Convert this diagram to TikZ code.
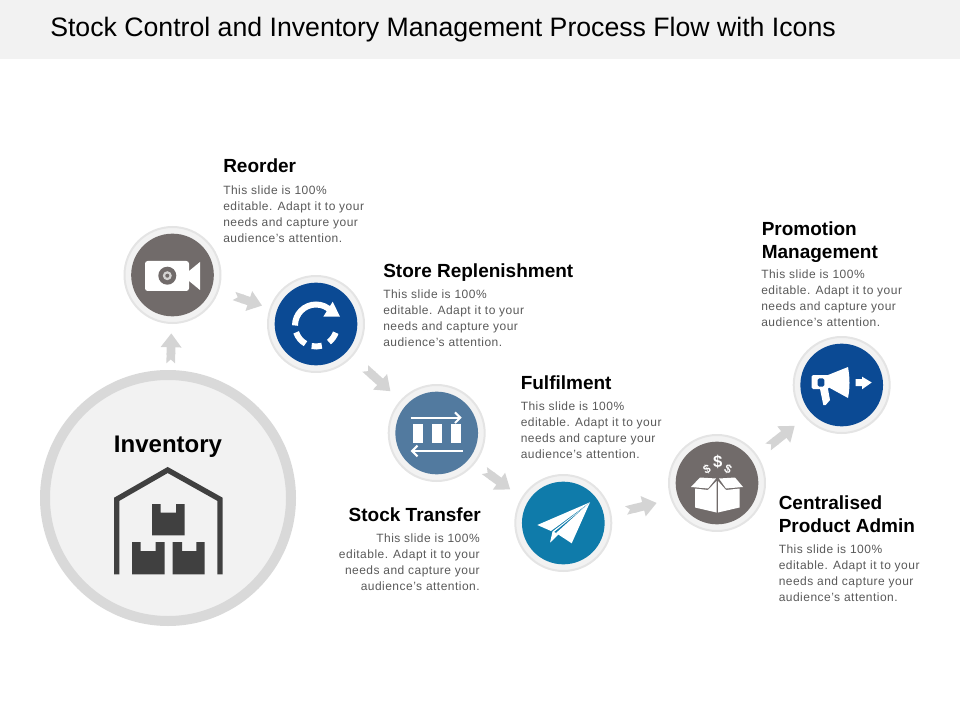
\documentclass[tikz,border=0pt]{standalone}
\usepackage{fontspec}
\setmainfont{Liberation Sans}
\usetikzlibrary{arrows.meta}
\definecolor{bandgray}{HTML}{F2F2F2}
\definecolor{ringgray}{HTML}{D9D9D9}
\definecolor{arrowgray}{HTML}{D4D4D4}
\definecolor{darkbox}{HTML}{404040}
\definecolor{bodygray}{HTML}{595959}
\definecolor{stonegray}{HTML}{716B6A}
\definecolor{navyblue}{HTML}{0B4A94}
\definecolor{steelblue}{HTML}{527A9F}
\definecolor{oceanblue}{HTML}{0F7BAA}
\tikzset{
  stepring/.style={circle, draw=ringgray!70, line width=1.5pt, fill=bandgray, minimum size=72pt, inner sep=0pt},
  stepdisc/.style={circle, fill=#1, minimum size=62pt, inner sep=0pt},
  flowarrow/.style={draw=arrowgray, line width=6.5pt, {Triangle Cap[reversed,length=3pt]}-{Triangle[length=10.5pt,width=15pt]}},
  headtext/.style={anchor=north west, align=left, font=\fontsize{14.25}{17.25}\selectfont\bfseries, inner sep=0pt},
  bodytext/.style={anchor=north west, align=left, text=bodygray, font=\fontsize{9}{12}\selectfont\addfontfeature{LetterSpace=4}, inner sep=0pt},
  iconline/.style={draw=white, line width=4.5pt},
}
\begin{document}
\begin{tikzpicture}[x=0.75pt, y=-0.75pt]
	\useasboundingbox (0,0) rectangle (960,720);

	% title band
	\fill[bandgray] (0,0) rectangle (960,59);
	\node[anchor=base west, inner sep=0pt, font=\fontsize{20}{24}\selectfont] (title) at (50,37) {Stock Control and Inventory Management Process Flow with Icons};

	% big circle
	\node[circle, draw=ringgray, line width=7.5pt, fill=bandgray, minimum size=184.5pt, inner sep=0pt] (inventory) at (168,498) {};
	\node[font=\fontsize{18}{20}\selectfont\bfseries, inner sep=0pt] (inventorylabel) at (168,447) {Inventory};

	% warehouse
	\draw[darkbox, line width=4pt] (116.7,574.3) -- (116.7,499.3) -- (167.7,470) -- (220,499.3) -- (220,574.3);
	\fill[darkbox] (152,504) -- (160.7,504) -- (160.7,512.7) -- (176,512.7) -- (176,504) -- (184.7,504) -- (184.7,535.3) -- (152,535.3) -- cycle;
	\fill[darkbox] (132,542) -- (140.7,542) -- (140.7,551) -- (155.7,551) -- (155.7,542) -- (164.7,542) -- (164.7,574.3) -- (132,574.3) -- cycle;
	\fill[darkbox] (172.7,542) -- (182,542) -- (182,551) -- (196.3,551) -- (196.3,542) -- (204.7,542) -- (204.7,574.3) -- (172.7,574.3) -- cycle;

	% step circles
	\node[stepring] (reorder) at (172.5,275) {};
	\node[stepdisc=stonegray] (reorderdisc) at (reorder) {};
	\node[stepring] (store) at (316,324) {};
	\node[stepdisc=navyblue] (storedisc) at (store) {};
	\node[stepring] (transfer) at (436.7,433) {};
	\node[stepdisc=steelblue] (transferdisc) at (transfer) {};
	\node[stepring] (plane) at (563.3,523) {};
	\node[stepdisc=oceanblue] (planedisc) at (plane) {};
	\node[stepring] (box) at (717,483) {};
	\node[stepdisc=stonegray] (boxdisc) at (box) {};
	\node[stepring] (promo) at (841.7,385) {};
	\node[stepdisc=navyblue] (promodisc) at (promo) {};

	% arrows
	\draw[flowarrow, shorten >=7pt, shorten <=5pt] (inventory) -- (reorder);
	\draw[flowarrow, shorten >=6pt, shorten <=12pt] (reorder) -- (store);
	\draw[flowarrow, shorten >=10pt, shorten <=13pt] (store) -- (transfer);
	\draw[flowarrow, shorten >=12pt, shorten <=7pt] ([yshift=-3pt]transfer.-35) -- ([yshift=-3pt]plane.145);
	\draw[flowarrow, shorten >=10pt, shorten <=12pt] ([yshift=-3pt]plane.15) -- ([yshift=-3pt]box.195);
	\draw[flowarrow, shorten >=8pt, shorten <=12pt] ([yshift=-3pt]box.38) -- ([yshift=-3pt]promo.218);

	% camera
	\fill[white, rounded corners=2pt] (145,261) rectangle (189,291);
	\fill[white] (189,271) -- (200,262) -- (200,290) -- (189,281) -- cycle;
	\fill[stonegray] (167.3,275.7) circle [radius=9];
	\fill[white!70!stonegray] (167.3,275.7) circle [radius=4.5];
	\fill[stonegray] (167.3,275.7) circle [radius=2];

	% replenish
	\draw[iconline] (316,325.5) ++(180:21) arc [start angle=180, end angle=318, radius=21];
	\fill[white] (323.3,316.7) -- (340,316.7) -- (332.7,301.7) -- cycle;
	\draw[iconline] (316,325.5) ++(161:21) arc [start angle=161, end angle=120, radius=21];
	\draw[iconline] (316,325.5) ++(102:21) arc [start angle=102, end angle=74, radius=21];
	\draw[iconline] (316,325.5) ++(52:21) arc [start angle=52, end angle=20, radius=21];

	% transfer
	\draw[white, line width=1.5pt, -{Straight Barb[length=4pt,width=8pt]}] (410.7,417.7) -- (461.7,417.7);
	\fill[white] (413.3,424.3) rectangle (423.3,443.3);
	\fill[white] (431.7,424.3) rectangle (441.7,443.3);
	\fill[white] (451,424.3) rectangle (460.7,443.3);
	\draw[white, line width=1.5pt, -{Straight Barb[length=4pt,width=8pt]}] (462.5,451) -- (410.7,451);

	% paper plane
	\fill[white] (590,502.3) -- (537.3,525) -- (551,531) -- cycle;
	\fill[white] (590,502.3) -- (556,533) -- (571.7,543.3) -- cycle;
	\fill[white] (589,503.5) -- (552.5,531.5) -- (550,542.7) -- (558.7,534.3) -- (554,532) -- cycle;

	% open box
	\fill[white] (691,487) -- (700,477.5) -- (716,478.5) -- (708,488.5) -- cycle;
	\fill[white] (743,487) -- (735,477.5) -- (719,478.5) -- (726,488.5) -- cycle;
	\fill[white] (695,488.5) -- (708,490) -- (716.5,481) -- (716.5,512.5) -- (695,507.5) -- cycle;
	\fill[white] (739.5,488.5) -- (726,490) -- (718,481) -- (718,512.5) -- (739.5,507.5) -- cycle;
	\node[white, font=\fontsize{12.5}{12}\selectfont\bfseries, inner sep=0pt] (dollarmid) at (717.7,461.7) {\$};
	\node[white, rotate=25, font=\fontsize{9}{9}\selectfont\bfseries, inner sep=0pt] (dollarleft) at (707,469) {\$};
	\node[white, rotate=-25, font=\fontsize{9}{9}\selectfont\bfseries, inner sep=0pt] (dollarright) at (728,469) {\$};

	% megaphone
	\fill[white] (828,375) -- (848,367) .. controls (850,378) and (850,388) .. (848,398) -- (828,387) -- cycle;
	\fill[white, even odd rule, rounded corners=1pt] (811.7,375) rectangle (829,389) (817.7,378.3) rectangle (824.3,386.7);
	\fill[white] (820,389) -- (828,389) -- (830,400) -- (825.7,405) -- (823.3,405) -- cycle;
	\fill[white] (855.7,379) -- (862,379) -- (862,376.7) -- (871.7,382.5) -- (862,389.3) -- (862,386) -- (855.7,386) -- cycle;

	% labels
	\node[headtext] (reorderhead) at (223,158) {Reorder};
	\node[bodytext] (reorderbody) at (223,186) {This slide is 100\%\\editable. Adapt it to your\\needs and capture your\\audience's attention.};
	\node[headtext] (storehead) at (383,263) {Store Replenishment};
	\node[bodytext] (storebody) at (383,290) {This slide is 100\%\\editable. Adapt it to your\\needs and capture your\\audience's attention.};
	\node[headtext] (fulfilhead) at (520.5,375) {Fulfilment};
	\node[bodytext] (fulfilbody) at (520.5,402) {This slide is 100\%\\editable. Adapt it to your\\needs and capture your\\audience's attention.};
	\node[headtext, anchor=north east, align=right] (transferhead) at (481,507) {Stock Transfer};
	\node[bodytext, anchor=north east, align=right] (transferbody) at (480,534) {This slide is 100\%\\editable. Adapt it to your\\needs and capture your\\audience's attention.};
	\node[headtext] (promohead) at (761.5,221) {Promotion\\Management};
	\node[bodytext] (promobody) at (761,270) {This slide is 100\%\\editable. Adapt it to your\\needs and capture your\\audience's attention.};
	\node[headtext] (adminhead) at (778.5,495) {Centralised\\Product Admin};
	\node[bodytext] (adminbody) at (778.5,545) {This slide is 100\%\\editable. Adapt it to your\\needs and capture your\\audience's attention.};
\end{tikzpicture}
\end{document}
